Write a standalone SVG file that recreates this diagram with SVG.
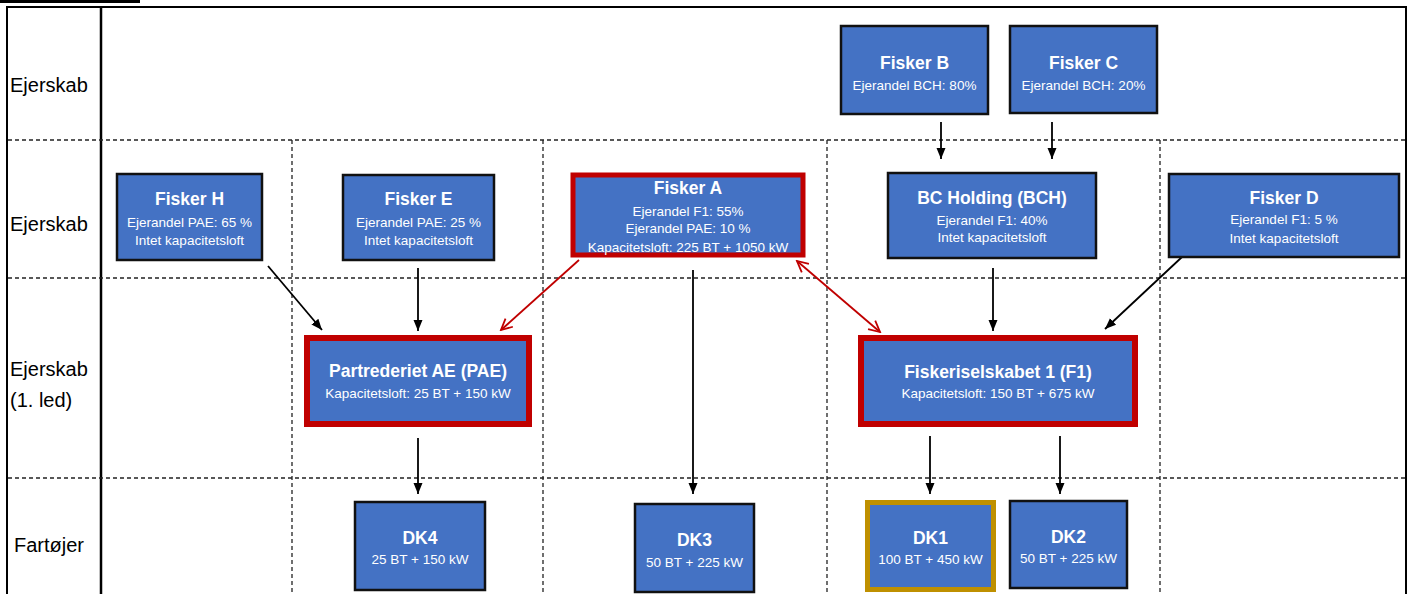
<svg xmlns="http://www.w3.org/2000/svg" width="1410" height="594" viewBox="0 0 1410 594">
<style>
.bg{fill:#fff}
.frame{fill:none;stroke:#000;stroke-width:2}
.grid{fill:none;stroke:#222;stroke-width:1.3;stroke-dasharray:4 3}
.row{font-family:"Liberation Sans",Arial,sans-serif;font-size:20px;fill:#000}
.box{fill:#4472C4;stroke:#111;stroke-width:2.5}
.boxr{fill:#4472C4;stroke:#C00000;stroke-width:6}
.boxg{fill:#4472C4;stroke:#BF9000;stroke-width:5}
.t{font-family:"Liberation Sans",Arial,sans-serif;font-weight:bold;font-size:17.5px;fill:#fff;text-anchor:middle}
.s{font-family:"Liberation Sans",Arial,sans-serif;font-size:13.5px;fill:#fff;text-anchor:middle}
.ab{stroke:#000;stroke-width:1.8;fill:none;marker-end:url(#ah)}
.ar{stroke:#C00000;stroke-width:1.8;fill:none}
</style>
<defs>
<marker id="ah" markerUnits="userSpaceOnUse" markerWidth="12" markerHeight="12" viewBox="0 0 12 12" refX="11" refY="6" orient="auto">
<path d="M0,1.5 L11,6 L0,10.5 Z" fill="#000"/>
</marker>
<marker id="rh" markerUnits="userSpaceOnUse" markerWidth="14" markerHeight="14" viewBox="0 0 14 14" refX="12" refY="7" orient="auto">
<path d="M1,1.5 L12,7 L1,12.5" fill="none" stroke="#C00000" stroke-width="1.8"/>
</marker>
<marker id="rt" markerUnits="userSpaceOnUse" markerWidth="14" markerHeight="14" viewBox="0 0 14 14" refX="2" refY="7" orient="auto">
<path d="M13,1.5 L2,7 L13,12.5" fill="none" stroke="#C00000" stroke-width="1.8"/>
</marker>
</defs>
<rect class="bg" x="0" y="0" width="1410" height="594"/>
<rect x="0" y="0" width="140" height="3" fill="#000"/>

<g id="grid">
<path class="frame" d="M7,600 V7 H1406 V600"/>
<line x1="101" y1="7" x2="101" y2="600" stroke="#000" stroke-width="2.5"/>
<line class="grid" x1="8" y1="140" x2="1405" y2="140"/>
<line class="grid" x1="8" y1="278" x2="1405" y2="278"/>
<line class="grid" x1="8" y1="478" x2="1405" y2="478"/>
<line class="grid" x1="292" y1="140" x2="292" y2="594"/>
<line class="grid" x1="543" y1="140" x2="543" y2="594"/>
<line class="grid" x1="827" y1="140" x2="827" y2="594"/>
<line class="grid" x1="1160" y1="140" x2="1160" y2="594"/>
</g>

<g id="row-labels">
<text class="row" x="10" y="92">Ejerskab</text>
<text class="row" x="10" y="231">Ejerskab</text>
<text class="row" x="10" y="376">Ejerskab</text>
<text class="row" x="10" y="407">(1. led)</text>
<text class="row" x="14" y="552">Fartøjer</text>
</g>

<g id="connectors">
<line class="ab" x1="941" y1="122" x2="941" y2="159"/>
<line class="ab" x1="1052" y1="122" x2="1052" y2="159"/>
<line class="ab" x1="268" y1="266" x2="322" y2="330"/>
<line class="ab" x1="418" y1="268" x2="418" y2="331"/>
<line class="ab" x1="693" y1="270" x2="693" y2="494"/>
<line class="ab" x1="993" y1="268" x2="993" y2="331"/>
<line class="ab" x1="1182" y1="257" x2="1105" y2="329"/>
<line class="ab" x1="418" y1="438" x2="418" y2="494"/>
<line class="ab" x1="930" y1="436" x2="930" y2="494"/>
<line class="ab" x1="1060" y1="436" x2="1060" y2="494"/>
<line class="ar" x1="579" y1="260" x2="501" y2="330" marker-end="url(#rh)"/>
<line class="ar" x1="797" y1="261" x2="880" y2="332" marker-start="url(#rt)" marker-end="url(#rh)"/>
</g>

<g id="fisker-b">
<rect class="box" x="841" y="26" width="147" height="88"/>
<text class="t" x="914.5" y="69">Fisker B</text>
<text class="s" x="914.5" y="90">Ejerandel BCH: 80%</text>
</g>
<g id="fisker-c">
<rect class="box" x="1010" y="26" width="147" height="87"/>
<text class="t" x="1083.5" y="69">Fisker C</text>
<text class="s" x="1083.5" y="90">Ejerandel BCH: 20%</text>
</g>
<g id="fisker-h">
<rect class="box" x="117" y="174" width="145" height="86"/>
<text class="t" x="189.5" y="205">Fisker H</text>
<text class="s" x="189.5" y="226.5">Ejerandel PAE: 65 %</text>
<text class="s" x="189.5" y="245">Intet kapacitetsloft</text>
</g>
<g id="fisker-e">
<rect class="box" x="343" y="175" width="151" height="85"/>
<text class="t" x="418.5" y="205">Fisker E</text>
<text class="s" x="418.5" y="226.5">Ejerandel PAE: 25 %</text>
<text class="s" x="418.5" y="245">Intet kapacitetsloft</text>
</g>
<g id="fisker-a">
<rect class="boxr" x="573" y="175" width="230" height="80" style="stroke-width:5"/>
<text class="t" x="688" y="194">Fisker A</text>
<text class="s" x="688" y="215.5">Ejerandel F1: 55%</text>
<text class="s" x="688" y="233">Ejerandel PAE: 10 %</text>
<text class="s" x="688" y="251.5">Kapacitetsloft: 225 BT + 1050 kW</text>
</g>
<g id="bch">
<rect class="box" x="888" y="173" width="208" height="85"/>
<text class="t" x="992" y="204">BC Holding (BCH)</text>
<text class="s" x="992" y="224.5">Ejerandel F1: 40%</text>
<text class="s" x="992" y="242">Intet kapacitetsloft</text>
</g>
<g id="fisker-d">
<rect class="box" x="1169" y="174" width="230" height="83"/>
<text class="t" x="1284" y="204">Fisker D</text>
<text class="s" x="1284" y="224">Ejerandel F1: 5 %</text>
<text class="s" x="1284" y="242.5">Intet kapacitetsloft</text>
</g>
<g id="pae">
<rect class="boxr" x="307" y="338" width="222" height="86"/>
<text class="t" x="418" y="377">Partrederiet AE (PAE)</text>
<text class="s" x="418" y="398">Kapacitetsloft: 25 BT + 150 kW</text>
</g>
<g id="f1">
<rect class="boxr" x="861" y="338" width="274" height="86"/>
<text class="t" x="998" y="378">Fiskeriselskabet 1 (F1)</text>
<text class="s" x="998" y="398">Kapacitetsloft: 150 BT + 675 kW</text>
</g>
<g id="dk4">
<rect class="box" x="355" y="502" width="130" height="88"/>
<text class="t" x="420" y="544">DK4</text>
<text class="s" x="420" y="564">25 BT + 150 kW</text>
</g>
<g id="dk3">
<rect class="box" x="635" y="504" width="119" height="88"/>
<text class="t" x="694.5" y="546">DK3</text>
<text class="s" x="694.5" y="567">50 BT + 225 kW</text>
</g>
<g id="dk1">
<rect class="boxg" x="867.5" y="502.5" width="126" height="87"/>
<text class="t" x="930.5" y="544">DK1</text>
<text class="s" x="930.5" y="564">100 BT + 450 kW</text>
</g>
<g id="dk2">
<rect class="box" x="1010" y="501" width="117" height="87"/>
<text class="t" x="1068.5" y="543">DK2</text>
<text class="s" x="1068.5" y="563">50 BT + 225 kW</text>
</g>
</svg>
